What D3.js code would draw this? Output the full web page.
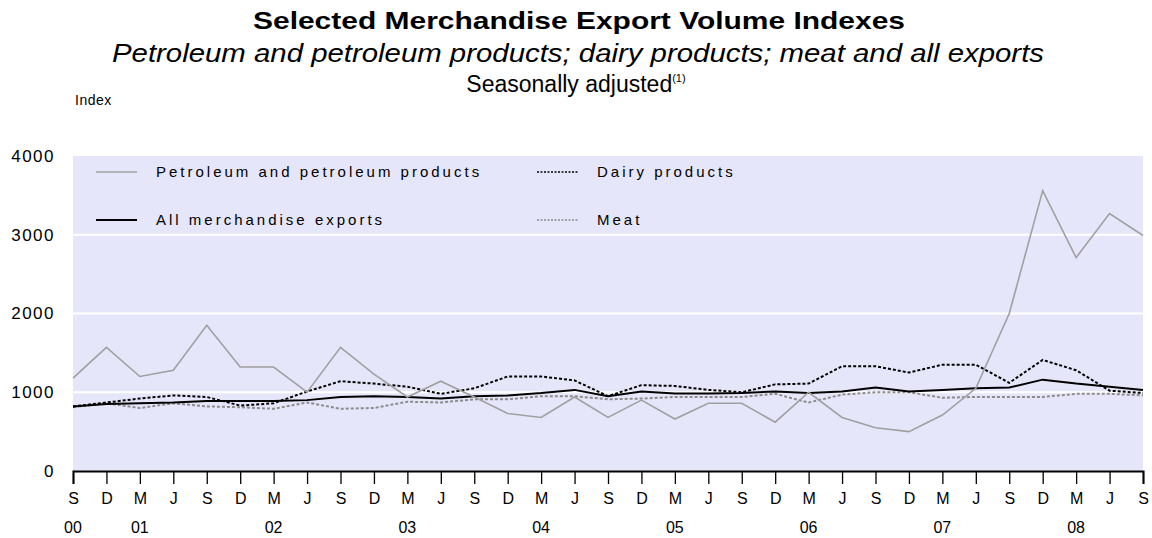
<!DOCTYPE html>
<html>
<head>
<meta charset="utf-8">
<script src="https://cdn.jsdelivr.net/npm/d3@7"></script>
<style>
  body { margin: 0; background: #fff; }
  text { font-family: "Liberation Sans", Arial, sans-serif; }
</style>
</head>
<body>
<div id="chart"></div>
<script>
// quarterly, Sep 2000 .. Sep 2008
const quarters = ["S","D","M","J","S","D","M","J","S","D","M","J","S","D","M","J","S",
                  "D","M","J","S","D","M","J","S","D","M","J","S","D","M","J","S"];
const yearLabels = [[0,"00"],[2,"01"],[6,"02"],[10,"03"],[14,"04"],[18,"05"],[22,"06"],[26,"07"],[30,"08"]];

const petroleum = [1180,1570,1200,1280,1850,1320,1320,1000,1570,1230,940,1140,940,730,680,940,680,
                   900,660,860,860,620,1000,680,550,500,710,1050,2000,3560,2710,3270,2990];
const allExports = [820,850,860,870,890,890,890,900,940,950,940,920,950,960,990,1030,950,
                    1010,985,985,990,1010,990,1010,1060,1010,1030,1050,1060,1160,1110,1070,1030];
const dairy = [820,870,920,960,940,830,860,1010,1140,1110,1070,980,1050,1200,1200,1150,950,
               1090,1080,1030,1000,1100,1110,1330,1330,1250,1350,1350,1120,1410,1280,1020,990];
const meat = [810,860,800,860,820,810,790,870,790,800,880,870,910,910,950,950,910,
              920,940,940,940,980,870,970,1000,1000,930,940,940,940,980,980,960];

const yTicks = [0, 1000, 2000, 3000, 4000];

const W = 1152, H = 538;
const margin = { top: 156, right: 9, bottom: 67, left: 73 };
const width = W - margin.left - margin.right;
const height = H - margin.top - margin.bottom;

const svg = d3.select("#chart").append("svg")
  .attr("width", W).attr("height", H);

// titles
svg.append("text").attr("x", 579).attr("y", 29).attr("text-anchor", "middle")
  .style("font-size", "24px").style("font-weight", "bold")
  .attr("textLength", 652).attr("lengthAdjust", "spacingAndGlyphs")
  .text("Selected Merchandise Export Volume Indexes");
svg.append("text").attr("x", 578).attr("y", 62).attr("text-anchor", "middle")
  .style("font-size", "25px").style("font-style", "italic")
  .attr("textLength", 932).attr("lengthAdjust", "spacingAndGlyphs")
  .text("Petroleum and petroleum products; dairy products; meat and all exports");
const sub = svg.append("text").attr("x", 576).attr("y", 92).attr("text-anchor", "middle")
  .style("font-size", "23px");
sub.append("tspan").text("Seasonally adjusted");
sub.append("tspan").attr("dy", -10).style("font-size", "11px").text("(1)");

svg.append("text").attr("x", 75).attr("y", 105).style("font-size", "14px")
  .style("letter-spacing", "0.5px").text("Index");

const g = svg.append("g").attr("transform", `translate(${margin.left},${margin.top})`);

const x = d3.scaleLinear().domain([0, quarters.length - 1]).range([0, width]);
const y = d3.scaleLinear().domain([0, 4000]).range([height, 0]);

g.append("rect").attr("width", width).attr("height", height).attr("fill", "#e6e6fa");

// gridlines
g.selectAll(".grid").data(yTicks.filter(d => d > 0 && d < 4000)).join("line")
  .attr("x1", 0).attr("x2", width)
  .attr("y1", d => y(d)).attr("y2", d => y(d))
  .attr("stroke", "#fff").attr("stroke-width", 2);

// y labels
g.selectAll(".ylab").data(yTicks).join("text")
  .attr("x", -18).attr("y", d => y(d)).attr("dy", "0.35em")
  .attr("text-anchor", "end").style("font-size", "17px").style("letter-spacing", "1.5px")
  .text(d => d);

// x axis
const xAxis = g.append("g").attr("transform", `translate(0,${height})`)
  .call(d3.axisBottom(x).tickValues(d3.range(quarters.length))
    .tickSize(13).tickFormat(i => quarters[i]));
xAxis.select(".domain").attr("stroke", "#000").attr("stroke-width", 2);
xAxis.selectAll(".tick line").attr("stroke", "#000").attr("stroke-width", 1.3);
xAxis.selectAll(".tick text").attr("y", 22).style("font-size", "16px")
  .style("font-family", "Liberation Sans, Arial, sans-serif").attr("fill", "#000");

g.selectAll(".year").data(yearLabels).join("text")
  .attr("x", d => x(d[0])).attr("y", height + 62).attr("text-anchor", "middle")
  .style("font-size", "16px").text(d => d[1]);

// lines
const series = [
  { name: "Petroleum and petroleum products", values: petroleum, color: "#a0a0a0", w: 1.6, dash: null },
  { name: "All merchandise exports", values: allExports, color: "#000", w: 2, dash: null },
  { name: "Dairy products", values: dairy, color: "#000", w: 2, dash: "3,2" },
  { name: "Meat", values: meat, color: "#8c8c8c", w: 2, dash: "3,2" }
];

const line = d3.line().x((d, i) => x(i)).y(d => y(d));

series.slice().reverse().forEach(s => {
  g.append("path").datum(s.values)
    .attr("d", line).attr("fill", "none")
    .attr("stroke", s.color).attr("stroke-width", s.w)
    .attr("stroke-dasharray", s.dash);
});

// legend
const legendPos = [[23, 16], [23, 64], [464, 16], [464, 64]];
series.forEach((s, i) => {
  const [lx, ly] = legendPos[i];
  g.append("line").attr("x1", lx).attr("x2", lx + 41).attr("y1", ly).attr("y2", ly)
    .attr("stroke", s.color).attr("stroke-width", s.dash ? 1.5 : s.w)
    .attr("stroke-dasharray", s.dash ? "2,1.5" : null);
  g.append("text").attr("x", lx + 60).attr("y", ly).attr("dy", "0.35em")
    .style("font-size", "15px").style("letter-spacing", "3px")
    .text(s.name);
});
</script>
</body>
</html>
